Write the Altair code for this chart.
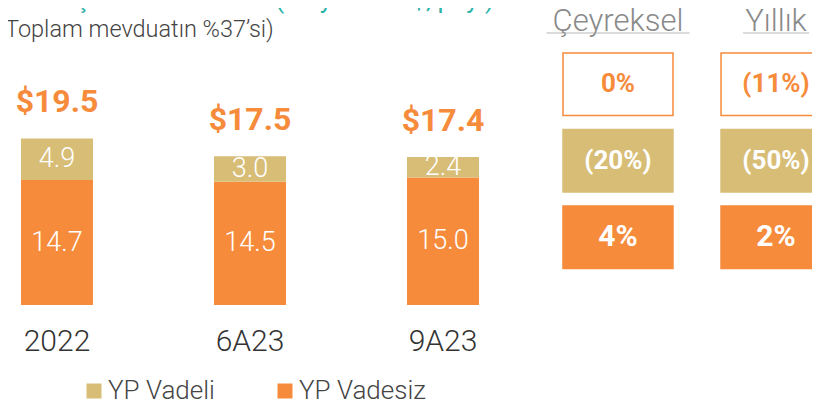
import altair as alt
import pandas as pd

# ---------------- data ----------------
categories = ["2022", "6A23", "9A23"]
vadesiz = [14.7, 14.5, 15.0]          # YP Vadesiz (orange, bottom)
vadeli = [4.9, 3.0, 2.4]              # YP Vadeli (tan, top)
totals = ["$19.5", "$17.5", "$17.4"]
series_names = ["YP Vadeli", "YP Vadesiz"]

box_columns = ["Çeyreksel", "Yıllık"]
box_rows = ["Toplam", "YP Vadeli", "YP Vadesiz"]
ceyreksel = ["0%", "(20%)", "4%"]
yillik = ["(11%)", "(50%)", "2%"]

title_text = "YP Müşteri Mevduatları (milyar ABD$, payı)"
subtitle_text = "Toplam mevduatın %37’si)"

# ---------------- style ----------------
ORANGE = "#F68B3B"
TAN = "#D8BD76"
TEAL = "#2BB3A9"
FONT = "Roboto"
underline_len = {"Çeyreksel": 143, "Yıllık": 66}

# ---------------- tables ----------------
seg_rows = []
for c, o, t in zip(categories, vadesiz, vadeli):
    seg_rows.append({"cat": c, "series": "YP Vadesiz", "y0": 0.0, "y1": o,
                     "mid": o / 2, "label": f"{o:.1f}"})
    seg_rows.append({"cat": c, "series": "YP Vadeli", "y0": o, "y1": o + t,
                     "mid": o + t / 2, "label": f"{t:.1f}"})
seg = pd.DataFrame(seg_rows)
tot = pd.DataFrame({"cat": categories,
                    "top": [o + t for o, t in zip(vadesiz, vadeli)],
                    "label": totals})

box_rows_data = []
for col, vals in zip(box_columns, [ceyreksel, yillik]):
    for r, v in zip(box_rows, vals):
        box_rows_data.append({"col": col, "row": r, "label": v})
boxdf = pd.DataFrame(box_rows_data)
hdr = pd.DataFrame({"col": box_columns, "ulen": [underline_len[c] for c in box_columns]})

# ---------------- bar part ----------------
xscale = alt.Scale(domain=categories, range=[13, 471], paddingInner=0.627, paddingOuter=0)
yscale = alt.Scale(domain=[0, 34.94], nice=False, zero=True)

xenc = alt.X("cat:N", scale=xscale, sort=categories,
             axis=alt.Axis(title=None, domain=False, ticks=False, labelAngle=0,
                           labelFontSize=30, labelFont=FONT, labelFontWeight=300,
                           labelColor="#333333", labelPadding=21))

bars = alt.Chart(seg).mark_bar().encode(
    x=xenc,
    y=alt.Y("y1:Q", scale=yscale, axis=None),
    y2="y0:Q",
    color=alt.Color("series:N",
                    scale=alt.Scale(domain=series_names, range=[TAN, ORANGE]),
                    legend=alt.Legend(orient="none", legendX=73, legendY=370,
                                      direction="horizontal", title=None,
                                      symbolType="square", symbolSize=225,
                                      symbolStrokeWidth=0, symbolOpacity=1,
                                      labelFontSize=26, labelFont=FONT,
                                      labelFontWeight=300, labelColor="#444444",
                                      columnPadding=57, labelOffset=1, padding=0)),
)

seg_labels = alt.Chart(seg).mark_text(
    color="white", fontSize=27, font=FONT, fontWeight=300, baseline="middle"
).encode(x=alt.X("cat:N", scale=xscale, sort=categories),
         y=alt.Y("mid:Q", scale=yscale), text="label:N")

tot_labels = alt.Chart(tot).mark_text(
    color=ORANGE, fontSize=32, font=FONT, fontWeight="bold", baseline="alphabetic", dy=-26
).encode(x=alt.X("cat:N", scale=xscale, sort=categories),
         y=alt.Y("top:Q", scale=yscale), text="label:N")

bar_part = alt.layer(bars, seg_labels, tot_labels)

# ---------------- box part ----------------
bx = alt.Scale(domain=box_columns, range=[555, 823], paddingInner=0.304, paddingOuter=0)
by = alt.Scale(domain=box_rows, range=[45, 260.5], paddingInner=0.183, paddingOuter=0)

rects = alt.Chart(boxdf).mark_rect(strokeWidth=1.5).encode(
    x=alt.X("col:N", scale=bx, sort=box_columns, axis=None),
    y=alt.Y("row:N", scale=by, sort=box_rows, axis=None),
    fill=alt.Fill("row:N", scale=alt.Scale(domain=box_rows, range=["#FFFFFF", TAN, ORANGE]),
                  legend=None),
    stroke=alt.Stroke("row:N", scale=alt.Scale(domain=box_rows, range=[ORANGE, TAN, ORANGE]),
                      legend=None),
)
box_text = alt.Chart(boxdf).mark_text(
    font=FONT, fontWeight="bold", baseline="middle"
).encode(
    x=alt.X("col:N", scale=bx, sort=box_columns),
    y=alt.Y("row:N", scale=by, sort=box_rows),
    text="label:N",
    size=alt.condition(alt.datum.row == "YP Vadesiz", alt.value(30), alt.value(26)),
    color=alt.condition(alt.datum.row == "Toplam", alt.value(ORANGE), alt.value("white")),
)
headers = alt.Chart(hdr).mark_text(
    fontSize=31, font=FONT, fontWeight=300, color="#8a8a8a", baseline="alphabetic"
).encode(x=alt.X("col:N", scale=bx, sort=box_columns), y=alt.value(23), text="col:N")
underline = alt.Chart(hdr).mark_tick(orient="horizontal", thickness=1, color="#9a9a9a").encode(
    x=alt.X("col:N", scale=bx, sort=box_columns), y=alt.value(25),
    size=alt.Size("ulen:Q", scale=None, legend=None))

box_part = alt.layer(rects, box_text, headers, underline)

# ---------------- titles ----------------
tdf = pd.DataFrame({"t": [title_text], "s": [subtitle_text]})
title_mark = alt.Chart(tdf).mark_text(
    align="left", baseline="alphabetic", fontSize=26, font=FONT, color=TEAL
).encode(x=alt.value(-8), y=alt.value(0), text="t:N")
sub_mark = alt.Chart(tdf).mark_text(
    align="left", baseline="alphabetic", fontSize=23.5, font=FONT, fontWeight=300, color="#444444"
).encode(x=alt.value(-3), y=alt.value(29), text="s:N")

chart = alt.layer(bar_part, box_part, title_mark, sub_mark).resolve_scale(
    x="independent", y="independent", color="independent"
).properties(
    width=804, height=297,
    background="white",
    autosize=alt.AutoSizeParams(type="none"),
    padding={"left": 0, "top": 0, "right": 0, "bottom": 96},
).configure_view(stroke=None)

chart.save("out.html", embed_options={"renderer": "svg", "actions": False})
